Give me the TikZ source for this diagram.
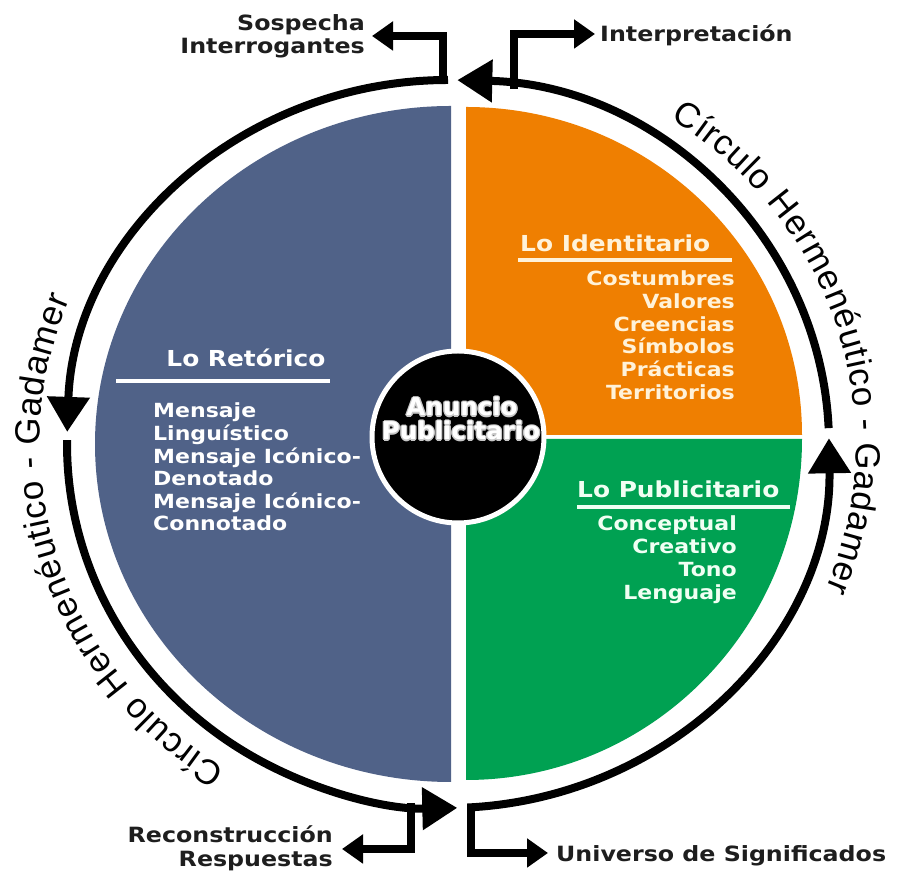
\documentclass[tikz,border=0pt]{standalone}
\usepackage{fontspec}
\usetikzlibrary{arrows.meta,decorations.text,calc}
\newfontfamily\hb{DejaVu Sans}[FakeStretch=1.13]
\newfontfamily\hc{DejaVu Sans}
\newfontfamily\ringf{Liberation Sans}
\definecolor{blueq}{HTML}{506288}
\definecolor{orangeq}{HTML}{EF7F01}
\definecolor{greenq}{HTML}{00A152}
\definecolor{creamtxt}{HTML}{FFF2D9}
\definecolor{greentxt}{HTML}{F0FFF3}
\definecolor{lblc}{HTML}{1E1E1E}
\definecolor{halo}{HTML}{C8C8C8}
\begin{document}
\begin{tikzpicture}[x=1pt,y=1pt,
  ring/.style={line width=8pt,-{Triangle[length=35pt,width=41pt]}},
  conn/.style={line width=8pt,-{Triangle[length=21pt,width=28pt]}},
  head/.style={font=\hb\bfseries\fontsize{22}{22}\selectfont, inner sep=0pt},
  item/.style={font=\hb\bfseries\fontsize{19.5}{19.5}\selectfont, inner sep=0pt},
  lbl/.style={font=\hb\bfseries\fontsize{21}{21}\selectfont, inner sep=0pt, text=lblc},
  adtxt/.style={font=\hc\bfseries\fontsize{24.5}{24.5}\selectfont, inner sep=0pt, anchor=base},
  uline/.style={line width=4pt},
  ringtext/.style={decorate, decoration={text along path, text align={fit to path},
    text={|\ringf\fontsize{35}{35}\selectfont|Círculo Hermenéutico - Gadamer}}}
]
\useasboundingbox (0,0) rectangle (922,877);
\fill[white] (0,0) rectangle (922,877);
\coordinate (C) at (448,433);

% quadrants
\fill[blueq] (451,771) arc[start angle=90,end angle=270,x radius=356,y radius=338] -- cycle;
\fill[orangeq] (466,442) -- (802,442) arc[start angle=0,end angle=90,x radius=336,y radius=328] -- cycle;
\fill[greenq] (466,438) -- (466,97) arc[start angle=270,end angle=360,x radius=336,y radius=341] -- cycle;

% centre
\node[circle, fill=black, draw=white, line width=5pt, minimum size=172pt, inner sep=0pt] (ctr) at (458,440) {};
\foreach \dx/\dy [count=\k] in {1.3/0,-1.3/0,0/1.3,0/-1.3,0.9/0.9,-0.9/0.9,0.9/-0.9,-0.9/-0.9}{
  \node[adtxt, text=halo] (ga\k) at ($(462,461)+(\dx,\dy)$) {Anuncio};
  \node[adtxt, text=halo] (gb\k) at ($(461,437)+(\dx,\dy)$) {Publicitario};
}
\node[adtxt, text=white] (an1) at (462,461) {Anuncio};
\node[adtxt, text=white] (an2) at (461,437) {Publicitario};

% ring
\draw[ring] ($(C)+(2.5:381 and 364)$) arc[start angle=2.5,end angle=88.6,x radius=381,y radius=364];
\draw[ring] ($(C)+(90:381 and 364)$) arc[start angle=90,end angle=178.1,x radius=381,y radius=364];
\draw[ring] ($(C)+(179.4:381 and 364)$) arc[start angle=179.4,end angle=271.4,x radius=381,y radius=364];
\draw[ring] ($(C)+(272.9:381 and 364)$) arc[start angle=272.9,end angle=360.9,x radius=381,y radius=364];

% connectors
\coordinate (s1) at (443,793); \coordinate (s2) at (372,841);
\draw[conn] (s1) |- (s2);
\coordinate (i1) at (514,788); \coordinate (i2) at (595,843);
\draw[conn] (i1) |- (i2);
\coordinate (r1) at (411,74); \coordinate (r2) at (342,28);
\draw[conn] (r1) |- (r2);
\coordinate (u1) at (471,73); \coordinate (u2) at (548,24);
\draw[conn] (u1) |- (u2);

% outer labels
\node[lbl, anchor=base east] (sos) at (365,846) {Sospecha};
\node[lbl, anchor=base east] (int) at (365,823) {Interrogantes};
\node[lbl, anchor=base west] (inp) at (600,835) {Interpretación};
\node[lbl, anchor=base east] (rec) at (333,34) {Reconstrucción};
\node[lbl, anchor=base east] (res) at (333,10) {Respuestas};
\node[lbl, anchor=base west] (uni) at (556,15) {Universo de Significados};

% Lo Retorico
\node[head, text=white, anchor=base] (ret) at (246,510) {Lo Retórico};
\draw[uline, white] (116,496) -- (330,496);
\foreach \t [count=\i] in {Mensaje,Linguístico,Mensaje Icónico-,Denotado,Mensaje Icónico-,Connotado}{
  \node[item, text=white, anchor=base west] (rt\i) at (153,{459-22.6*(\i-1)}) {\t};
}

% Lo Identitario
\node[head, text=creamtxt, anchor=base west] (ide) at (520,625) {Lo Identitario};
\draw[uline, creamtxt] (518,617) -- (732,617);
\foreach \t [count=\i] in {Costumbres,Valores,Creencias,Símbolos,Prácticas,Territorios}{
  \node[item, text=creamtxt, anchor=base east] (id\i) at (735,{591.3-22.7*(\i-1)}) {\t};
}

% Lo Publicitario
\node[head, text=greentxt, anchor=base west] (pub) at (577,379) {Lo Publicitario};
\draw[uline, greentxt] (577,370) -- (790,370);
\foreach \t [count=\i] in {Conceptual,Creativo,Tono,Lenguaje}{
  \node[item, text=greentxt, anchor=base east] (pb\i) at (737,{346-22.7*(\i-1)}) {\t};
}

% ring texts
\path[ringtext] ($(C)+(57:408 and 388)$) arc[start angle=57, end angle=-22, x radius=408, y radius=388];
\path[ringtext] ($(C)+(237:408 and 388)$) arc[start angle=237, end angle=158, x radius=408, y radius=388];
\end{tikzpicture}
\end{document}
